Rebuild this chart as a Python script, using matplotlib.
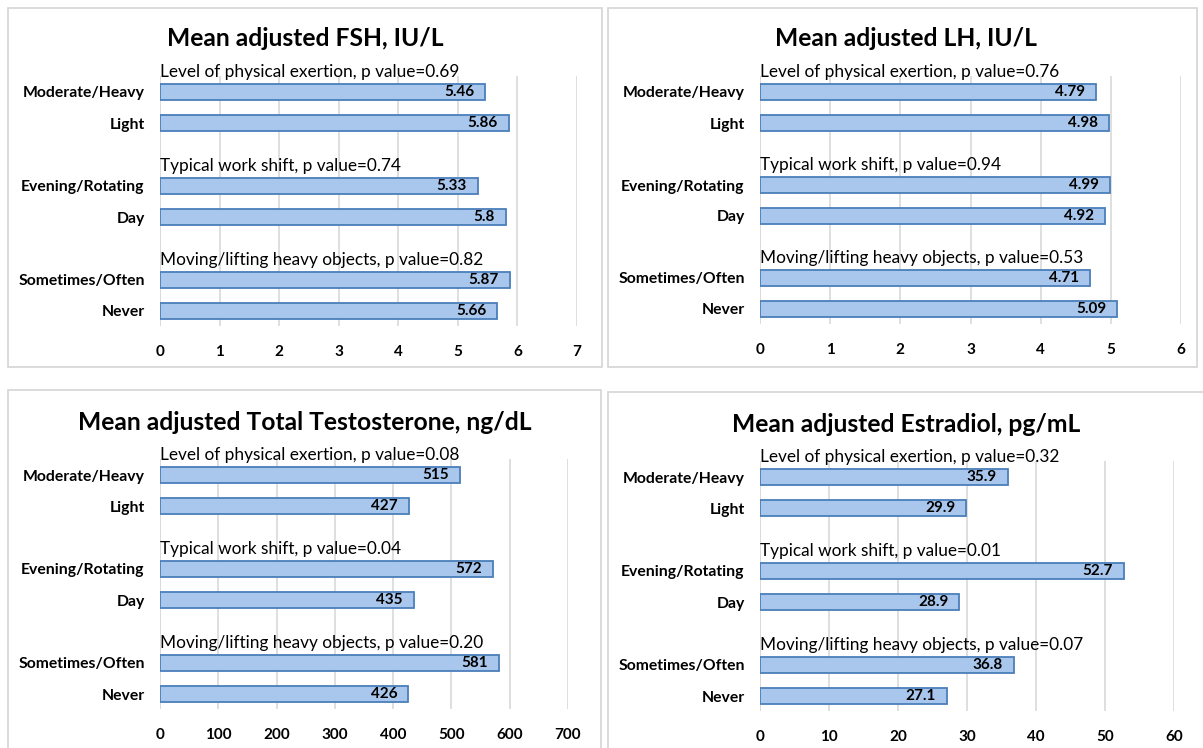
import matplotlib
matplotlib.use("Agg")
import matplotlib.pyplot as plt
from matplotlib.patches import Rectangle

# categories (top to bottom) and group headers
categories = ["Moderate/Heavy", "Light", "Evening/Rotating", "Day",
              "Sometimes/Often", "Never"]
groups = ["Level of physical exertion", "Typical work shift",
          "Moving/lifting heavy objects"]

# values per panel
fsh = [5.46, 5.86, 5.33, 5.8, 5.87, 5.66]
fsh_labels = ["5.46", "5.86", "5.33", "5.8", "5.87", "5.66"]
fsh_p = ["0.69", "0.74", "0.82"]

lh = [4.79, 4.98, 4.99, 4.92, 4.71, 5.09]
lh_labels = ["4.79", "4.98", "4.99", "4.92", "4.71", "5.09"]
lh_p = ["0.76", "0.94", "0.53"]

testo = [515, 427, 572, 435, 581, 426]
testo_labels = ["515", "427", "572", "435", "581", "426"]
testo_p = ["0.08", "0.04", "0.20"]

estra = [35.9, 29.9, 52.7, 28.9, 36.8, 27.1]
estra_labels = ["35.9", "29.9", "52.7", "28.9", "36.8", "27.1"]
estra_p = ["0.32", "0.01", "0.07"]

W, H = 1203, 748
plt.rcParams['font.family'] = ['Lato', 'DejaVu Sans']

fig = plt.figure(figsize=(W / 100, H / 100), dpi=100)

# slots for bars, with a gap between groups
slots = [0, 1, 3, 4, 6, 7]


def panel(box, title, title_xy, vals, labels, pvals, xmax, step, ax_px, bar0, bar7):
    # grey frame round the panel
    bx0, by0, bx1, by1 = box
    fig.patches.append(Rectangle((bx0 / W, 1 - by1 / H), (bx1 - bx0) / W, (by1 - by0) / H,
                                 transform=fig.transFigure, fill=False,
                                 edgecolor="#D4D4D4", lw=1.2))
    fig.text(title_xy[0] / W, 1 - title_xy[1] / H, title, ha="center", va="center",
             fontsize=17.7, fontweight="bold")

    x0, x1, top, bottom = ax_px
    ax = fig.add_axes([x0 / W, 1 - bottom / H, (x1 - x0) / W, (bottom - top) / H])
    sp = (bar7 - bar0) / 7.0
    ax.set_ylim(7 + (bottom - bar7) / sp, -(bar0 - top) / sp)
    ax.set_xlim(0, xmax)

    ax.barh(slots, vals, height=0.52, color="#A9C7EC", edgecolor="#4A7EBB",
            linewidth=1.3, zorder=3)
    for s, v, lab in zip(slots, vals, labels):
        ax.annotate(lab, (v, s), xytext=(-8, 0), textcoords="offset points",
                    ha="right", va="center", fontsize=11, fontweight="bold", zorder=4)
    for g, p, s in zip(groups, pvals, [0, 3, 6]):
        ax.text(0, s - 0.64, f"{g}, p value={p}", ha="left", va="center",
                fontsize=12.4)

    ax.set_yticks(slots)
    ax.set_yticklabels(categories, fontsize=11.3, fontweight="bold")
    ticks = [i * step for i in range(int(round(xmax / step)) + 1)]
    ax.set_xticks(ticks)
    ax.set_xticklabels([str(t) for t in ticks], fontsize=11, fontweight="bold")
    ax.tick_params(length=0)
    ax.tick_params(axis="y", pad=11)
    ax.tick_params(axis="x", pad=14)
    ax.xaxis.grid(True, color="#D9D9D9", lw=1.2, zorder=0)
    for sname in ["top", "right", "bottom", "left"]:
        ax.spines[sname].set_visible(False)
    ax.axvline(0, color="#D9D9D9", lw=1.2, zorder=1)
    ax.set_facecolor("none")


panel((8, 8, 602, 367), "Mean adjusted FSH, IU/L", (305, 39),
      fsh, fsh_labels, fsh_p, 7, 1, (160, 577, 76, 326), 92, 311)
panel((608, 8, 1197, 367), "Mean adjusted LH, IU/L", (906, 39),
      lh, lh_labels, lh_p, 6, 1, (760, 1181, 76, 324), 92, 309)
panel((8, 390, 601, 760), "Mean adjusted Total Testosterone, ng/dL", (305, 422),
      testo, testo_labels, testo_p, 700, 100, (160, 568, 459, 709), 475, 694)
panel((608, 392, 1210, 760), "Mean adjusted Estradiol, pg/mL", (906, 424),
      estra, estra_labels, estra_p, 60, 10, (760, 1174, 461, 711), 477, 696)

fig.savefig("out.png", dpi=100)
